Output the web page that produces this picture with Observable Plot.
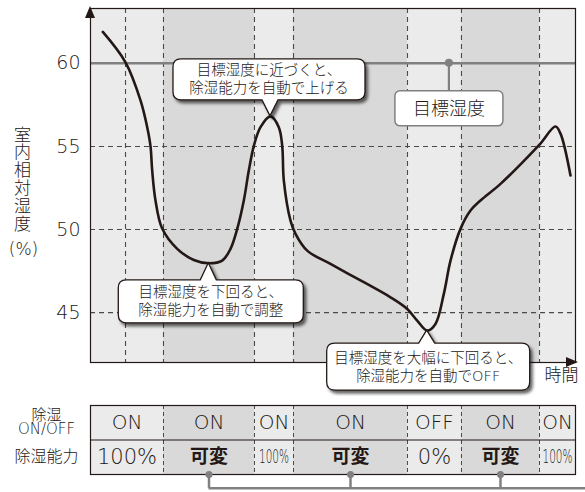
<!DOCTYPE html>
<html><head><meta charset="utf-8">
<script src="https://cdn.jsdelivr.net/npm/d3@7"></script>
<script src="https://cdn.jsdelivr.net/npm/@observablehq/plot@0.6"></script>
<style>
body{margin:0;background:#fff;}
#wrap{position:relative;width:585px;height:492px;}
#main{position:absolute;left:0;top:0;}
#table{position:absolute;left:0;top:398px;}
svg{overflow:visible}
svg text{font-weight:300}
</style></head><body><div id="wrap"><div id="main"></div><div id="table"></div></div>
<script>
// ---- data ----
const timePts = [2.54, 7.22, 10.31, 11.69, 12.37, 12.72, 13.40, 14.78, 17.88, 21.30, 24.39, 27.15, 28.87, 30.25, 31.61, 32.64, 33.67, 35.05, 37.11, 38.82, 39.53, 39.86, 41.24, 42.27, 44.68, 49.48, 56.35, 61.86, 65.30, 67.36, 69.42, 71.13, 72.85, 74.23, 76.29, 78.35, 80.41, 84.54, 92.43, 95.88, 96.91, 98.97];
const humidity = [61.89, 60.06, 57.77, 56.16, 55.02, 53.55, 51.75, 50.06, 48.84, 48.17, 47.97, 48.13, 48.84, 50.04, 51.75, 53.55, 55.02, 56.16, 56.81, 56.16, 55.02, 52.95, 50.54, 49.74, 48.73, 47.93, 46.83, 45.92, 45.22, 44.52, 43.92, 44.32, 46.13, 48.13, 50.04, 51.14, 51.75, 52.75, 55.06, 56.20, 55.77, 53.25];
const yTicks = [45, 50, 55, 60];
const gridValues = [45, 50, 55];
const targetHumidity = 60;
const targetLabelTime = 74;
const timeGrid = [7.22, 15.05, 33.81, 41.86, 65.36, 76.49, 92.58];
const segBounds = [0, 15.05, 33.81, 41.86, 65.36, 76.49, 92.58, 100];
const onOff = ["ON", "ON", "ON", "ON", "OFF", "ON", "ON"];
const capacity = ["100%", "可変", "100%", "可変", "0%", "可変", "100%"];
const rowLabels = ["除湿\nON/OFF", "除湿能力"];
const yLabelChars = ["室", "内", "相", "対", "湿", "度"];
const yLabelUnit = "(%)";
const xLabel = "時間";
const targetLabel = "目標湿度";
const calloutRise = ["目標湿度に近づくと、", "除湿能力を自動で上げる"];
const calloutAdjust = ["目標湿度を下回ると、", "除湿能力を自動で調整"];
const calloutOff = ["目標湿度を大幅に下回ると、", "除湿能力を自動でOFF"];

// ---- style ----
const FONT = '"DejaVu Sans","Noto Sans CJK JP",sans-serif';
const INK = "#231815";
const TXT = "#231815";
const LIGHT = "#ebebeb";
const DARK = "#d9d9d9";
const GRAYLINE = "#808080";

const curve = timePts.map((t, i) => ({t, h: humidity[i]}));
const segs = capacity.map((c, i) => ({x1: segBounds[i], x2: segBounds[i + 1], cx: (segBounds[i] + segBounds[i + 1]) / 2,
  variable: c === "可変", narrow: segBounds[i + 1] - segBounds[i] < 10, onoff: onOff[i], cap: c}));

const mainSvg = Plot.plot({
  width: 585, height: 398,
  marginLeft: 90, marginRight: 10, marginTop: 8, marginBottom: 36,
  style: {fontFamily: FONT, background: "transparent", color: TXT},
  x: {domain: [0, 100], axis: null},
  y: {domain: [42, 63.3]},
  marks: [
    Plot.rect(segs.filter(d => !d.variable), {x1: "x1", x2: "x2", fill: LIGHT}),
    Plot.rect(segs.filter(d => d.variable), {x1: "x1", x2: "x2", fill: DARK}),
    Plot.ruleY(gridValues, {stroke: "#4a4a4a", strokeWidth: 1.1, strokeDasharray: "5,4"}),
    Plot.ruleX(timeGrid, {stroke: "#4a4a4a", strokeWidth: 1.1, strokeDasharray: "5,4"}),
    Plot.ruleY([targetHumidity], {stroke: GRAYLINE, strokeWidth: 2.5}),
    Plot.line(curve, {x: "t", y: "h", curve: "catmull-rom", stroke: INK, strokeWidth: 2.6}),
    Plot.frame({stroke: INK, strokeWidth: 1.2}),
    Plot.axisY({ticks: yTicks, tickSize: 0, tickPadding: 10, fontSize: 19, label: null, fill: TXT}),
    Plot.text([yLabelChars.join("\n")], {frameAnchor: "left", dx: -68, dy: -6, fontSize: 17, lineHeight: 1.05, textAnchor: "middle", fill: TXT}),
    Plot.text([yLabelUnit], {frameAnchor: "left", dx: -67, dy: 64, fontSize: 17, textAnchor: "middle", fill: TXT}),
    Plot.text([xLabel], {frameAnchor: "bottom-right", dx: 3, dy: 18, fontSize: 17, textAnchor: "end", fill: TXT})
  ]
});
document.getElementById("main").appendChild(mainSvg);

// ---- annotations via the plot's scales ----
const sx = mainSvg.scale("x"), sy = mainSvg.scale("y");
const svg = d3.select(mainSvg);
const defs = svg.append("defs");
defs.append("filter").attr("id", "shadow").attr("x", "-20%").attr("y", "-30%").attr("width", "150%").attr("height", "180%")
  .append("feDropShadow").attr("dx", 2.5).attr("dy", 3).attr("stdDeviation", 1.6).attr("flood-color", "#000").attr("flood-opacity", 0.6);

const [xL, xR] = sx.range;
const [yB, yT] = sy.range;
const ann = svg.append("g");
// axis arrowheads
ann.append("path").attr("d", `M${xL},${yT - 2}L${xL - 5},${yT + 10}L${xL + 5},${yT + 10}Z`).attr("fill", INK);
ann.append("path").attr("d", `M${xR + 3},${yB}L${xR - 9},${yB - 5}L${xR - 9},${yB + 5}Z`).attr("fill", INK);

const peak = d3.greatest(curve.filter(d => d.t > 30 && d.t < 45), d => d.h);
const low1 = d3.least(curve.filter(d => d.t < 30), d => d.h);
const low2 = d3.least(curve, d => d.h);

const callouts = [
  {lines: calloutRise, anchor: peak, box: [-97, -57, 192, 41], pointer: "down"},
  {lines: calloutAdjust, anchor: low1, box: [-90, 17, 185, 43], pointer: "up"},
  {lines: calloutOff, anchor: low2, box: [-100, 13, 203, 47], pointer: "up"}
];
function calloutPath(x0, y0, w, h, r, tx, ty, dir) {
  const b1 = tx - 8, b2 = tx + 8;
  let p = `M${x0 + r},${y0}`;
  if (dir === "up") p += `H${b1}L${tx},${ty}L${b2},${y0}`;
  p += `H${x0 + w - r}Q${x0 + w},${y0} ${x0 + w},${y0 + r}V${y0 + h - r}Q${x0 + w},${y0 + h} ${x0 + w - r},${y0 + h}`;
  if (dir === "down") p += `H${b2}L${tx},${ty}L${b1},${y0 + h}`;
  p += `H${x0 + r}Q${x0},${y0 + h} ${x0},${y0 + h - r}V${y0 + r}Q${x0},${y0} ${x0 + r},${y0}Z`;
  return p;
}
for (const c of callouts) {
  const tx = sx.apply(c.anchor.t), ty = sy.apply(c.anchor.h);
  const [dx, dy, w, h] = c.box;
  const x0 = tx + dx, y0 = ty + dy;
  ann.append("path").attr("d", calloutPath(x0, y0, w, h, 8, tx, ty, c.pointer))
    .attr("fill", "#fff").attr("stroke", INK).attr("stroke-width", 1.3).attr("filter", "url(#shadow)");
  c.lines.forEach((line, i) => {
    ann.append("text").attr("x", x0 + w / 2).attr("y", y0 + h / 2 + (i === 0 ? -9 : 9))
      .attr("text-anchor", "middle").attr("dominant-baseline", "central")
      .attr("font-family", FONT).attr("font-size", 14.5).attr("fill", TXT).text(line);
  });
}
// target label
{
  const ax = sx.apply(targetLabelTime), ay = sy.apply(targetHumidity);
  ann.append("line").attr("x1", ax).attr("x2", ax).attr("y1", ay).attr("y2", ay + 28).attr("stroke", GRAYLINE).attr("stroke-width", 2.2);
  ann.append("circle").attr("cx", ax).attr("cy", ay).attr("r", 4).attr("fill", GRAYLINE);
  ann.append("rect").attr("x", ax - 54).attr("y", ay + 28).attr("width", 108).attr("height", 35).attr("rx", 5)
    .attr("fill", "#fff").attr("stroke", GRAYLINE).attr("stroke-width", 1.5);
  ann.append("text").attr("x", ax).attr("y", ay + 28 + 17.5).attr("text-anchor", "middle").attr("dominant-baseline", "central")
    .attr("font-family", FONT).attr("font-size", 18).attr("fill", TXT).text(targetLabel);
}

// ---- table ----
const varSegs = segs.filter(d => d.variable);
const tblSvg = Plot.plot({
  width: 585, height: 94,
  marginLeft: 90, marginRight: 10, marginTop: 7, marginBottom: 18,
  style: {fontFamily: FONT, background: "transparent", color: TXT},
  x: {domain: [0, 100], axis: null},
  y: {domain: [0, 2], reverse: true, axis: null},
  marks: [
    Plot.rect(segs.filter(d => !d.variable), {x1: "x1", x2: "x2", y1: 0, y2: 2, fill: LIGHT}),
    Plot.rect(varSegs, {x1: "x1", x2: "x2", y1: 0, y2: 2, fill: DARK}),
    Plot.ruleX(segBounds.slice(1, -1), {y1: 0, y2: 2, stroke: "#4a4a4a", strokeWidth: 1, strokeDasharray: "4,3"}),
    Plot.ruleY([1], {stroke: INK, strokeWidth: 1.2}),
    Plot.frame({stroke: INK, strokeWidth: 1.2}),
    Plot.text(segs, {x: "cx", y: 0.5, text: "onoff", fontSize: 20, fill: TXT}),
    Plot.text(segs.filter(d => !d.variable && !d.narrow), {x: "cx", y: 1.5, text: "cap", fontSize: 21, fill: TXT}),
    Plot.text(segs.filter(d => !d.variable && d.narrow), {x: "cx", y: 1.5, text: "cap", fontSize: 19, fill: TXT}),
    Plot.text(varSegs, {x: "cx", y: 1.5, text: "cap", fontSize: 19, fontWeight: "bold", fill: TXT}),
    Plot.text([rowLabels[0]], {frameAnchor: "left", y: 0.5, dx: -44, fontSize: 15, lineHeight: 0.95, textAnchor: "middle", fill: TXT}),
    Plot.text([rowLabels[1]], {frameAnchor: "left", y: 1.5, dx: -44, fontSize: 16, textAnchor: "middle", fill: TXT}),
    Plot.ruleX(varSegs, {x: "cx", y1: 2, y2: 2.4, stroke: GRAYLINE, strokeWidth: 2.5}),
    Plot.ruleY([2.4], {x1: varSegs[0].cx, x2: 100, insetRight: -10, stroke: GRAYLINE, strokeWidth: 2.5}),
    Plot.dot(varSegs, {x: "cx", y: 2, r: 3.5, fill: GRAYLINE})
  ]
});
document.getElementById("table").appendChild(tblSvg);
// squeeze the narrow "100%" cells horizontally, as in the reference
d3.select(tblSvg).selectAll("text").filter(function () {
  return this.textContent === "100%" && this.getComputedTextLength() < 58;
}).attr("textLength", 30).attr("lengthAdjust", "spacingAndGlyphs");
d3.select(tblSvg).selectAll("text").filter(function () { return this.textContent === "可変"; }).style("font-weight", "bold");
</script>
</body></html>
